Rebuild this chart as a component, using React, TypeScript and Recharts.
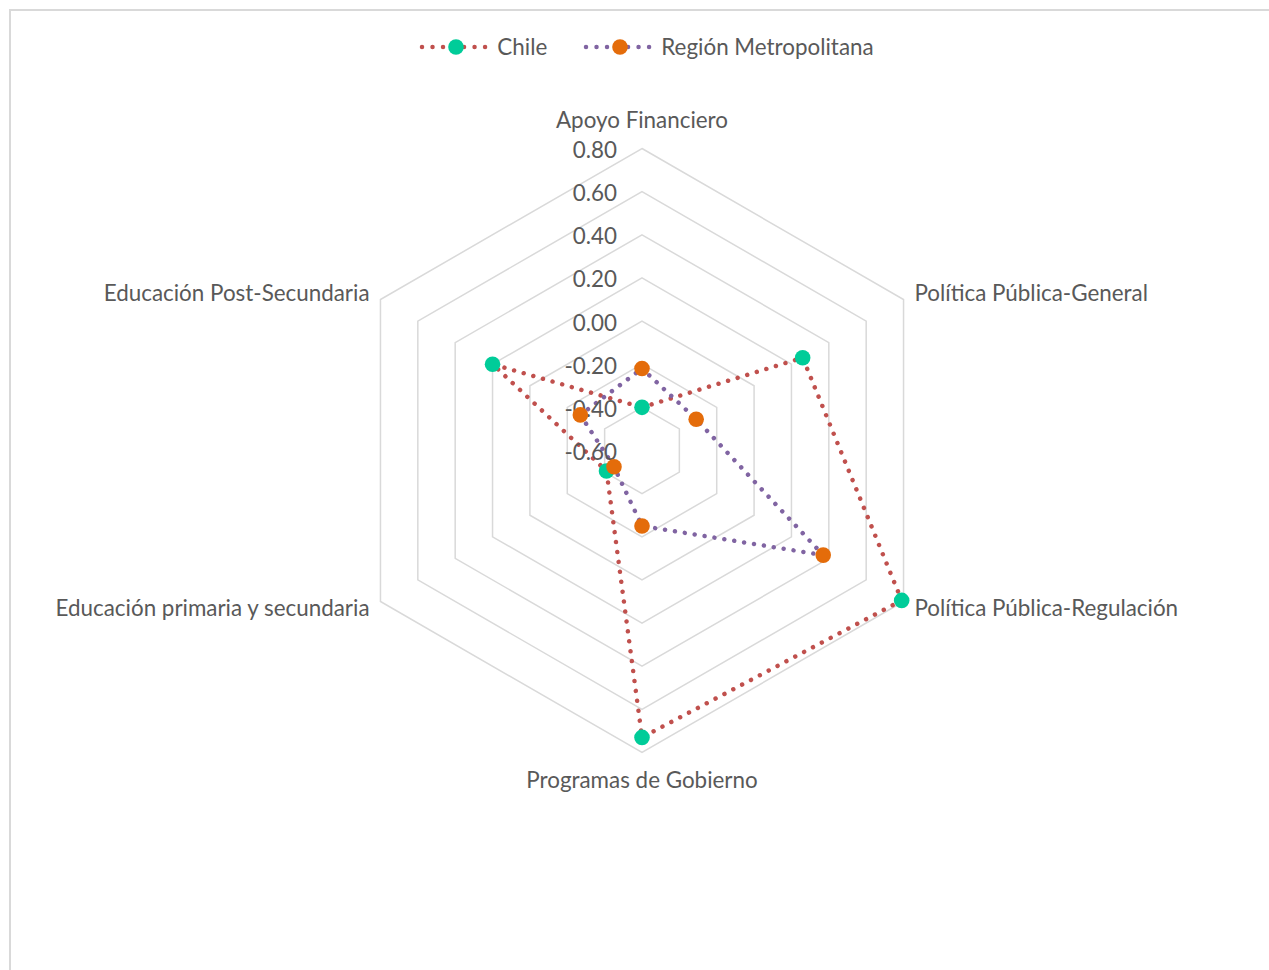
import React from 'react';
import { RadarChart, Radar, PolarGrid, PolarAngleAxis, PolarRadiusAxis, Legend } from 'recharts';

const categories = [
  'Apoyo Financiero',
  'Política Pública-General',
  'Política Pública-Regulación',
  'Programas de Gobierno',
  'Educación primaria y secundaria',
  'Educación Post-Secundaria',
];
const chileValues = [-0.4, 0.26, 0.79, 0.73, -0.41, 0.2];
const rmValues = [-0.22, -0.31, 0.37, -0.25, -0.45, -0.27];
const radiusDomain = [-0.6, 0.8];
const radiusTicks = [-0.6, -0.4, -0.2, 0, 0.2, 0.4, 0.6, 0.8];

const series = [
  { key: 'chile', name: 'Chile', line: '#C0504D', marker: '#00CC99' },
  { key: 'rm', name: 'Región Metropolitana', line: '#8064A2', marker: '#E46C0A' },
];

const data = categories.map((name, i) => ({
  name,
  chile: chileValues[i],
  rm: rmValues[i],
}));

const W = 1269;
const H = 970;
const CX = 642;
const CY = 450.5;
const R = 302;
const FONT = 'Lato, "Open Sans", sans-serif';
const FS = 22.4;
const TEXT = '#595959';

const AngleTick = (props: any) => {
  const { x, y, payload } = props;
  const rad = (payload.coordinate * Math.PI) / 180;
  const cos = Math.cos(rad);
  const anchor = cos > 0.01 ? 'start' : cos < -0.01 ? 'end' : 'middle';
  const up = y < CY;
  let dx = 0;
  let dy = 0;
  if (anchor === 'middle') {
    dy = up ? -13 : 27;
  } else {
    dx = anchor === 'start' ? 4 : -4;
    dy = up ? 5.5 : 10;
  }
  return (
    <text x={x + dx} y={y + dy} textAnchor={anchor} fill={TEXT} fontSize={FS} fontFamily={FONT}>
      {payload.value}
    </text>
  );
};

const RadiusTick = (props: any) => {
  const { x, y, payload } = props;
  return (
    <text x={x - 25} y={y + 9.5} textAnchor="end" fill={TEXT} fontSize={FS} fontFamily={FONT}>
      {Number(payload.value).toFixed(2)}
    </text>
  );
};

// round marker drawn on every vertex of a series
const makeDot = (color: string) => (p: any) => (
  <circle key={`${color}-${p.index}`} cx={p.cx} cy={p.cy} r={7.8} fill={color} />
);

const LegendContent = () => (
  <div style={{ display: 'flex', justifyContent: 'center', alignItems: 'center', fontFamily: FONT, fontSize: FS, color: TEXT }}>
    {series.map((s, i) => (
      <div key={s.key} style={{ display: 'flex', alignItems: 'center', marginLeft: i === 0 ? 0 : 36 }}>
        <svg width={70} height={16}>
          <line x1={3} y1={8} x2={68} y2={8} stroke={s.line} strokeWidth={4.5} strokeDasharray="0.01 10.5" strokeLinecap="round" />
          <circle cx={37} cy={8} r={7.8} fill={s.marker} />
        </svg>
        <span style={{ marginLeft: 8 }}>{s.name}</span>
      </div>
    ))}
  </div>
);

export default function App() {
  return (
    <div style={{ position: 'absolute', left: 0, top: 0, width: W, height: H, overflow: 'hidden', background: '#fff' }}>
      <div
        style={{
          position: 'absolute',
          left: 9,
          top: 9,
          width: W + 20,
          height: H + 20,
          borderTop: '2px solid #d9d9d9',
          borderLeft: '2px solid #d9d9d9',
        }}
      />
      <div style={{ position: 'absolute', left: 0, top: 0 }}>
        <RadarChart width={W} height={H} data={data} cx={CX} cy={CY} outerRadius={R} margin={{ top: 0, right: 0, bottom: 0, left: 0 }}>
          <PolarGrid gridType="polygon" radialLines={false} stroke="#d9d9d9" strokeWidth={1.5} />
          <PolarAngleAxis dataKey="name" tick={<AngleTick />} tickLine={false} axisLine={false} />
          {series.map((s) => (
            <Radar
              key={s.key}
              name={s.name}
              dataKey={s.key}
              stroke={s.line}
              strokeWidth={4.5}
              strokeDasharray="0.01 10"
              strokeLinecap="round"
              fill="none"
              fillOpacity={0}
              dot={makeDot(s.marker)}
              isAnimationActive={false}
            />
          ))}
          <PolarRadiusAxis
            angle={90}
            type="number"
            domain={radiusDomain}
            allowDataOverflow
            allowDecimals
            ticks={radiusTicks as any}
            tickCount={8}
            tick={<RadiusTick />}
            axisLine={false}
            tickLine={false}
          />
          <Legend
            layout="horizontal"
            verticalAlign="middle"
            align="center"
            content={<LegendContent />}
            wrapperStyle={{ position: 'absolute', top: 33, left: 12, width: W }}
          />
        </RadarChart>
      </div>
    </div>
  );
}
